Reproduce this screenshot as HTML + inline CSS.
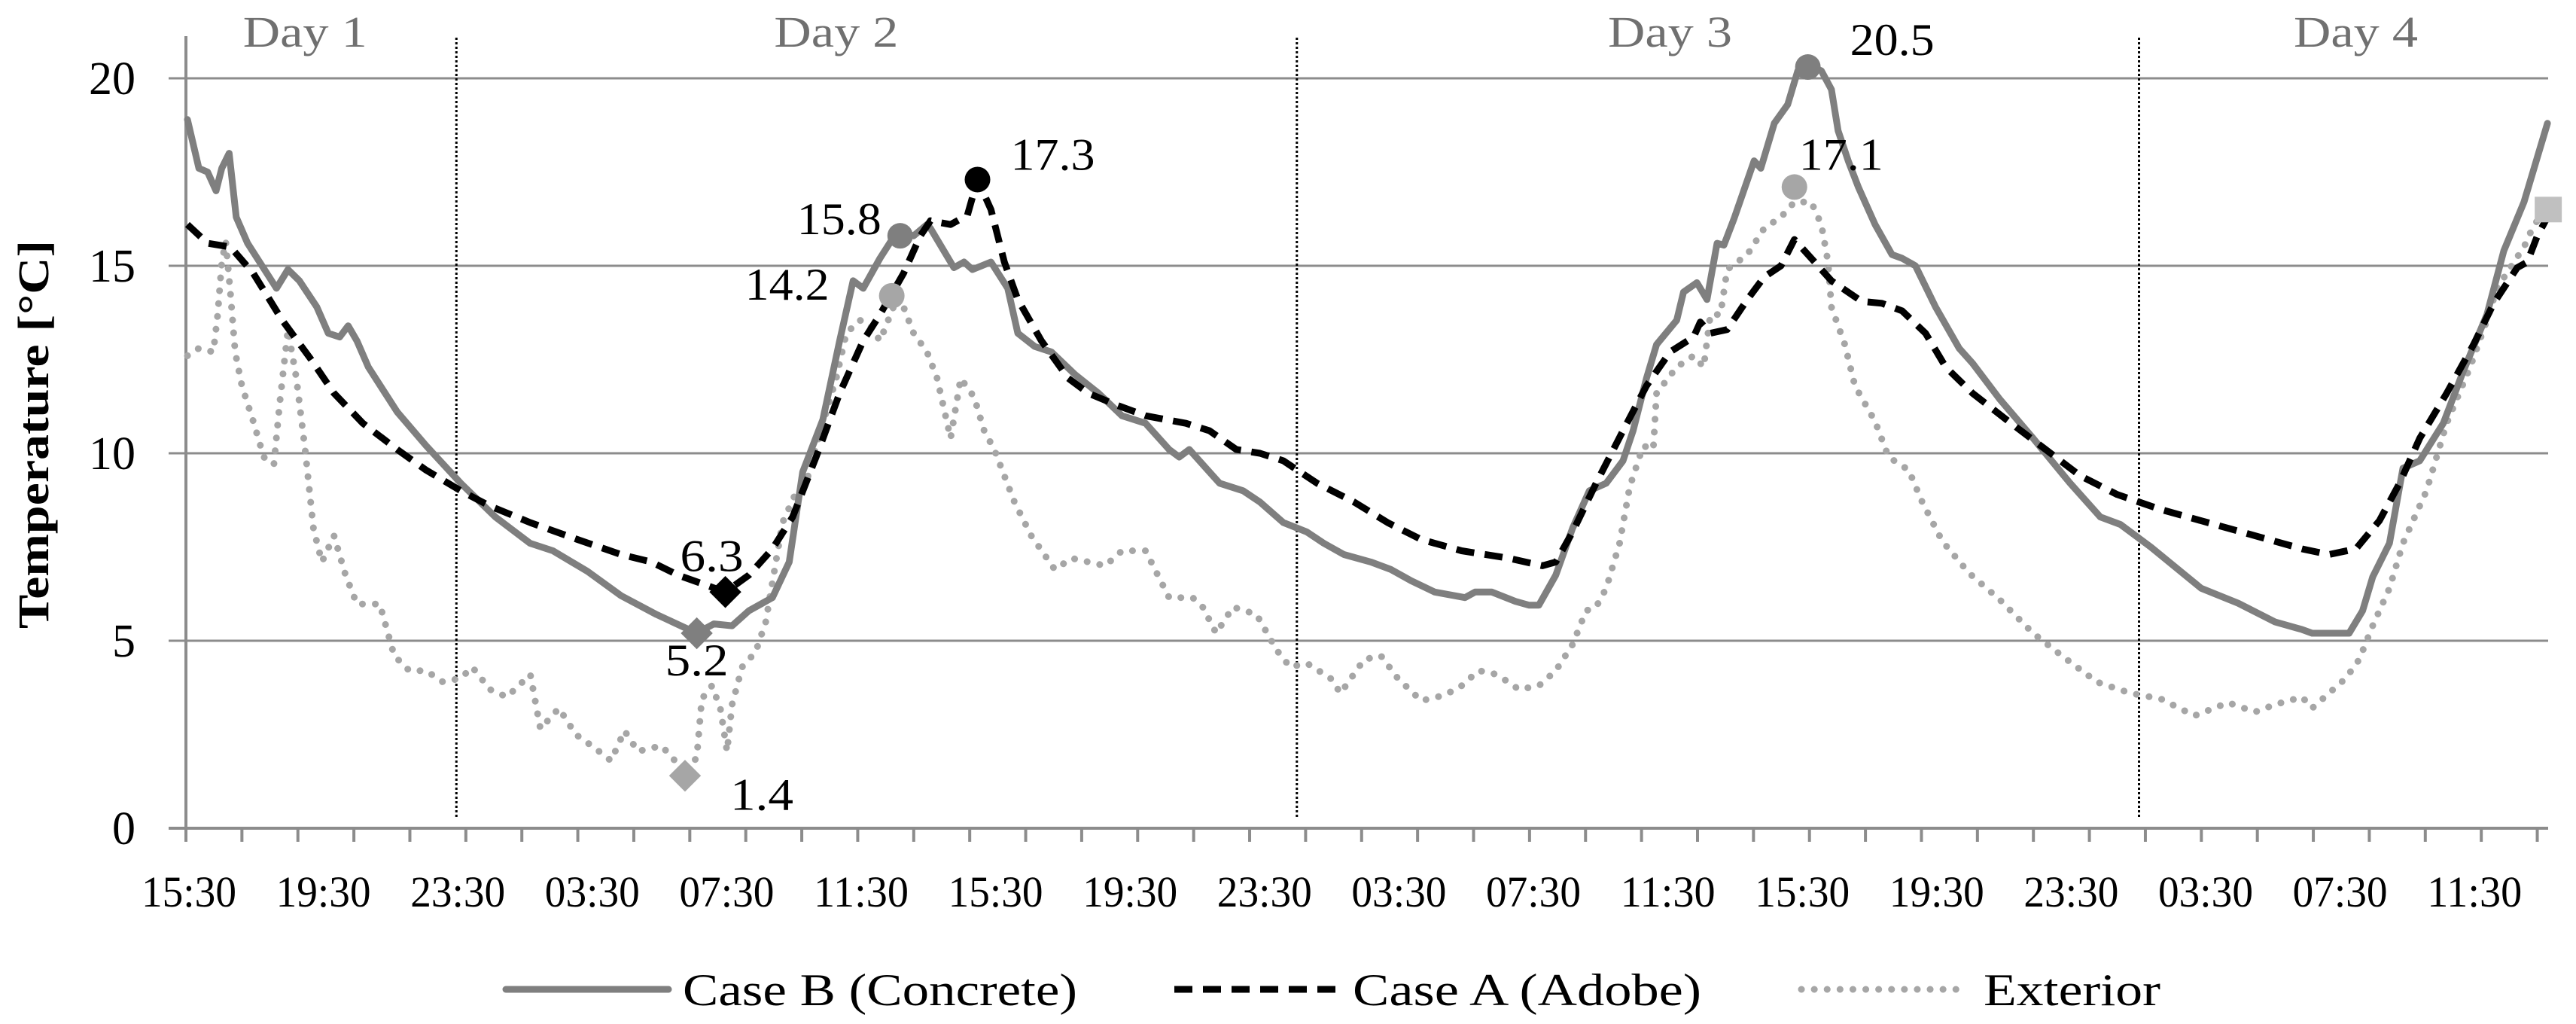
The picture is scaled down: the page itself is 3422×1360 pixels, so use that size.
<!DOCTYPE html>
<html><head><meta charset="utf-8"><style>
html,body{margin:0;padding:0;background:#fff;}
svg{display:block;font-family:"Liberation Serif",serif;}
</style></head><body>
<svg id="chart" width="3422" height="1360" viewBox="0 0 3422 1360" xmlns="http://www.w3.org/2000/svg">
<g id="grid"></g>
<g id="axes"></g>
<g id="series"></g>
<g id="marks"></g>
<g id="legend"></g>
</svg>
<script>
// hours after 15:30 on Day 1
const concreteT=[0,0.34,0.6,0.85,1.02,1.24,1.45,1.79,2.22,2.65,2.99,3.33,3.85,4.19,4.53,4.78,5.04,5.38,6.24,7.1,8.13,9.16,10.19,10.87,11.9,12.9,13.95,15.15,15.66,16.2,16.7,17.4,17.9,18.3,18.9,19.4,19.8,20.1,20.6,21.1,21.6,22.0,22.1,22.5,22.8,23.1,23.35,23.9,24.4,24.7,25.2,25.7,26.4,27.1,27.8,28.5,29.2,29.5,29.8,30.2,30.7,31.4,31.9,32.6,33.3,33.8,34.4,35.2,35.8,36.4,37.1,38.0,38.3,38.8,39.5,39.9,40.2,40.7,41.2,41.7,42.2,42.7,43.0,43.4,43.7,44.3,44.5,44.9,45.2,45.5,45.7,46.0,46.6,46.8,47.2,47.6,47.9,48.2,48.6,48.9,49.1,49.4,49.7,50.2,50.7,51.0,51.4,52.0,52.7,53.1,53.9,54.9,56.0,56.9,57.5,58.4,59.9,61.0,62.1,62.9,63.2,63.7,64.3,64.7,65.0,65.5,65.9,66.4,67.1,67.7,68.4,68.9,69.5,69.9,70.2];
const concreteV=[18.9,17.6,17.5,17.0,17.6,18.0,16.3,15.6,15.0,14.4,14.9,14.6,13.9,13.2,13.1,13.4,13.0,12.3,11.1,10.2,9.2,8.3,7.6,7.4,6.85,6.2,5.7,5.2,5.45,5.4,5.8,6.15,7.1,9.5,10.9,13.0,14.6,14.4,15.2,15.9,15.8,16.1,16.0,15.4,14.95,15.1,14.9,15.1,14.4,13.2,12.85,12.7,12.1,11.6,11.0,10.8,10.1,9.9,10.1,9.7,9.2,9.0,8.7,8.15,7.9,7.6,7.3,7.1,6.9,6.6,6.3,6.15,6.3,6.3,6.05,5.95,5.95,6.75,8.0,9.0,9.2,9.8,10.6,12.0,12.9,13.55,14.3,14.55,14.1,15.6,15.55,16.25,17.8,17.6,18.8,19.3,20.2,20.35,20.2,19.7,18.6,17.8,17.1,16.1,15.3,15.2,15.0,13.9,12.8,12.4,11.45,10.4,9.2,8.3,8.1,7.5,6.4,6.0,5.5,5.3,5.2,5.2,5.2,5.8,6.7,7.6,9.6,9.8,10.8,12.2,13.7,15.4,16.7,17.9,18.8];
const adobeT=[0,0.6,1.28,1.96,2.82,3.68,4.36,5.22,6.24,7.1,8.13,8.98,10.2,11.6,12.9,13.8,14.6,16.0,16.7,17.4,18.0,18.7,19.4,20.1,20.6,21.3,21.8,22.1,22.7,23.2,23.5,23.9,24.3,24.7,25.4,26.2,26.8,27.6,28.5,29.7,30.4,31.2,31.9,32.6,33.6,34.7,35.7,36.7,37.9,39.3,40.3,40.7,41.2,41.9,42.7,43.4,44.1,44.8,45.0,45.3,45.8,46.4,46.9,47.4,47.8,48.3,48.9,49.8,50.4,51.0,51.7,52.3,53.1,54.1,55.2,56.3,57.4,58.7,60.3,61.9,62.9,63.7,64.5,65.2,65.8,66.4,67.2,68.0,68.6,69.3,69.6,69.9,70.2];
const adobeV=[16.1,15.6,15.5,14.8,13.55,12.5,11.6,10.8,10.1,9.55,9.0,8.6,8.15,7.7,7.3,7.1,6.75,6.3,6.75,7.45,8.3,9.9,11.6,13.0,13.7,14.8,15.8,16.2,16.1,16.35,17.3,16.5,15.1,14.1,13.0,12.0,11.6,11.3,11.0,10.8,10.6,10.1,10.0,9.8,9.2,8.7,8.15,7.7,7.4,7.2,7.0,7.1,7.9,9.2,10.6,11.8,12.7,13.1,13.5,13.2,13.3,14.1,14.7,15.0,15.7,15.2,14.6,14.05,14.0,13.8,13.2,12.3,11.6,10.9,10.15,9.4,8.9,8.5,8.1,7.7,7.45,7.3,7.45,8.2,9.2,10.4,11.6,12.9,14.0,14.95,15.1,15.8,16.3];
const extT=[0,0.34,0.77,0.9,1.02,1.14,1.28,1.42,1.62,1.96,2.27,2.57,2.74,2.99,3.24,3.5,3.75,4.0,4.36,4.7,5.04,5.72,6.15,6.6,7.1,7.6,8.13,8.47,9.0,9.5,10.2,10.5,11.05,11.55,12.1,12.6,13.0,13.4,14.1,14.5,14.8,15.15,15.3,15.6,15.85,16.05,16.2,16.5,16.9,17.2,17.7,18.05,18.4,18.9,19.3,19.6,20.0,20.3,20.6,21.0,21.3,21.6,22.0,22.3,22.7,23.0,23.4,23.7,24.0,24.6,25.1,25.8,26.3,27.3,27.8,28.5,29.2,29.9,30.2,30.6,31.1,31.8,32.4,32.8,33.3,34.0,34.3,35.0,35.5,36.0,36.7,37.4,37.9,38.4,38.8,39.3,39.6,40.2,40.7,41.2,41.6,41.9,42.2,42.6,42.9,43.3,43.6,43.7,44.3,44.8,45.1,45.3,45.6,45.8,46.1,46.4,46.9,47.4,47.8,48.3,48.6,48.8,48.9,49.3,49.6,50.2,50.6,51.2,51.6,52.2,53.0,53.9,54.9,55.9,56.8,57.8,58.7,59.7,60.7,61.5,62.1,62.9,63.2,63.7,64.2,64.6,65.0,65.5,65.9,66.6,67.2,67.9,68.4,68.7,69.2,69.5,69.8,70.1];
const extV=[12.6,12.8,12.7,13.7,15.1,15.65,14.25,12.7,11.8,10.85,9.9,9.7,11.3,13.3,12.0,10.1,7.98,7.1,7.8,6.76,5.98,5.98,4.6,4.2,4.2,3.9,4.0,4.3,3.7,3.5,4.1,2.65,3.2,2.5,2.15,1.8,2.6,2.05,2.2,1.8,1.4,1.9,3.45,3.8,3.2,2.05,3.3,4.3,4.7,5.5,8.15,8.85,9.2,10.8,12.0,13.2,13.55,13.4,13.0,13.9,13.9,13.2,12.7,12.0,10.4,12.0,11.5,10.6,10.1,8.7,7.8,6.9,7.2,7.0,7.4,7.4,6.15,6.15,5.9,5.2,5.9,5.7,4.75,4.3,4.4,4.0,3.6,4.5,4.6,4.0,3.4,3.55,3.8,4.2,4.15,3.9,3.7,3.8,4.2,4.9,5.8,5.9,6.4,7.6,9.1,10.2,10.1,11.6,12.3,12.6,12.3,13.7,13.7,14.9,15.1,15.3,16.0,16.3,16.7,16.7,16.1,15.1,13.9,12.9,11.8,10.85,9.9,9.55,8.7,7.65,6.8,6.1,5.2,4.5,3.9,3.6,3.45,3.0,3.35,3.1,3.3,3.5,3.2,3.6,4.0,4.5,5.4,6.4,7.6,9.0,10.8,12.3,13.55,14.4,15.1,15.5,16.1,16.4];
const yTicks=[0,5,10,15,20];
const xLabels=["15:30","19:30","23:30","03:30","07:30","11:30","15:30","19:30","23:30","03:30","07:30","11:30","15:30","19:30","23:30","03:30","07:30","11:30"];
const dayNames=["Day 1","Day 2","Day 3","Day 4"];
const dayLabelT=[3.5,19.3,44.1,64.5];
const daySepT=[8.0,33.0,58.05];
const annSeries=["concrete","adobe","ext","concrete","ext","adobe","concrete","ext","ext"];
const annT=[15.15,16.0,14.8,21.2,20.95,23.5,48.2,47.8,70.2];
const annV=[5.2,6.3,1.4,15.8,14.2,17.3,20.3,17.1,16.5];
const annText=["5.2","6.3","1.4","15.8","14.2","17.3","20.5","17.1",""];
const annShape=["diamond","diamond","diamond","circle","circle","circle","circle","circle","square"];

const NS="http://www.w3.org/2000/svg";
const X0=249, PXH=44.66, Y0=1100, PXV=49.8, XL=224, XR=3385;
const xs=t=>X0+t*PXH, ys=v=>Y0-v*PXV;
function mk(tag,attrs,parent){const e=document.createElementNS(NS,tag);for(const k in attrs)e.setAttribute(k,attrs[k]);parent.appendChild(e);return e;}
const grid=document.getElementById('grid'),axes=document.getElementById('axes'),ser=document.getElementById('series'),marks=document.getElementById('marks'),leg=document.getElementById('legend');

yTicks.forEach(v=>{
  if(v>0){const l=mk('line',{x1:XL,x2:XR,y1:ys(v),y2:ys(v),stroke:'#8c8c8c','stroke-width':3},grid);
  
  }
  const t=mk('text',{x:180,y:ys(v)+21,'font-size':62,'text-anchor':'end',fill:'#000'},axes);
  t.textContent=v;
  
  
});
let ax=mk('line',{x1:XL,x2:XR,y1:Y0,y2:Y0,stroke:'#8c8c8c','stroke-width':4},axes);


let ay=mk('line',{x1:247,x2:247,y1:48,y2:Y0,stroke:'#8c8c8c','stroke-width':4},axes);


for(let i=0;i<=42;i++){const x=247+i*74.37;
  const tk=mk('line',{x1:x,x2:x,y1:Y0,y2:Y0+18,stroke:'#8c8c8c','stroke-width':4},axes);
  
  }
xLabels.forEach((s,i)=>{const t=mk('text',{x:251+i*178.6,y:1204,'font-size':58,'text-anchor':'middle',fill:'#000',textLength:126,lengthAdjust:'spacingAndGlyphs'},axes);
  t.textContent=s;
  
  });
const yt=mk('text',{transform:'translate(64,577) rotate(-90)','font-size':58,'font-weight':'bold','text-anchor':'middle',fill:'#000',textLength:516,lengthAdjust:'spacingAndGlyphs'},axes);
yt.textContent='Temperature [°C]';


daySepT.forEach(t=>{const l=mk('line',{x1:xs(t),x2:xs(t),y1:50,y2:1088,stroke:'#000','stroke-width':3,'stroke-dasharray':'3 3'},grid);
  
  });
dayNames.forEach((d,i)=>{
  const t=mk('text',{x:xs(dayLabelT[i]),y:62,'font-size':58,'text-anchor':'middle',fill:'#707070',textLength:165,lengthAdjust:'spacingAndGlyphs'},axes);
  t.textContent=d;
  
  });

const styles={concrete:{stroke:'#7f7f7f',dash:'none',cap:'round',w:9},adobe:{stroke:'#000',dash:'24 14',cap:'butt',w:9},ext:{stroke:'#a6a6a6',dash:'0.1 17',cap:'round',w:9}};
const markCol={concrete:'#7f7f7f',adobe:'#000',ext:'#a6a6a6'};
function path(T,V){return T.map((t,i)=>(i?'L':'M')+xs(t).toFixed(1)+' '+ys(V[i]).toFixed(1)).join(' ');}
[['ext',extT,extV],['concrete',concreteT,concreteV],['adobe',adobeT,adobeV]].forEach(([k,T,V])=>{
  const s=styles[k];
  const p=mk('path',{d:path(T,V),fill:'none',stroke:s.stroke,'stroke-width':s.w,'stroke-dasharray':s.dash,'stroke-linecap':s.cap,'stroke-linejoin':'round'},ser);
  
  
});
const labelOff=[[0,35],[-18,-49],[102,24],[-81,-23],[-139,-16],[100,-34],[112,-37],[62,-44],[0,0]];
annT.forEach((t,i)=>{const x=xs(t),y=ys(annV[i]),c=markCol[annSeries[i]];let m;
  if(annShape[i]==='circle')m=mk('circle',{cx:x,cy:y,r:17,fill:c},marks);
  else if(annShape[i]==='diamond')m=mk('rect',{x:x-15,y:y-15,width:30,height:30,fill:c,transform:'rotate(45 '+x+' '+y+')'},marks);
  else m=mk('rect',{x:x-17,y:y-17,width:36,height:34,fill:'#c0c0c0'},marks);
  
  
  if(annText[i]){const tx=mk('text',{x:x+labelOff[i][0],y:y+labelOff[i][1]+21,'font-size':60,'text-anchor':'middle',fill:'#000',textLength:annText[i].length*28,lengthAdjust:'spacingAndGlyphs'},marks);
    tx.textContent=annText[i];
    
    }
});
const legItems=[['concrete',672,888,907,'Case B (Concrete)',524],['adobe',1560,1774,1797,'Case A (Adobe)',463],['ext',2393,2600,2635,'Exterior',235]];
legItems.forEach(([k,a,b,tx,lab,tl])=>{const s=styles[k];
  const l=mk('line',{x1:a,x2:b,y1:1314,y2:1314,stroke:s.stroke,'stroke-width':s.w,'stroke-dasharray':s.dash,'stroke-linecap':s.cap},leg);
  
  
  const t=mk('text',{x:tx,y:1335,'font-size':60,fill:'#000',textLength:tl,lengthAdjust:'spacingAndGlyphs'},leg);
  t.textContent=lab;
  
  
});
</script>
</body></html>
